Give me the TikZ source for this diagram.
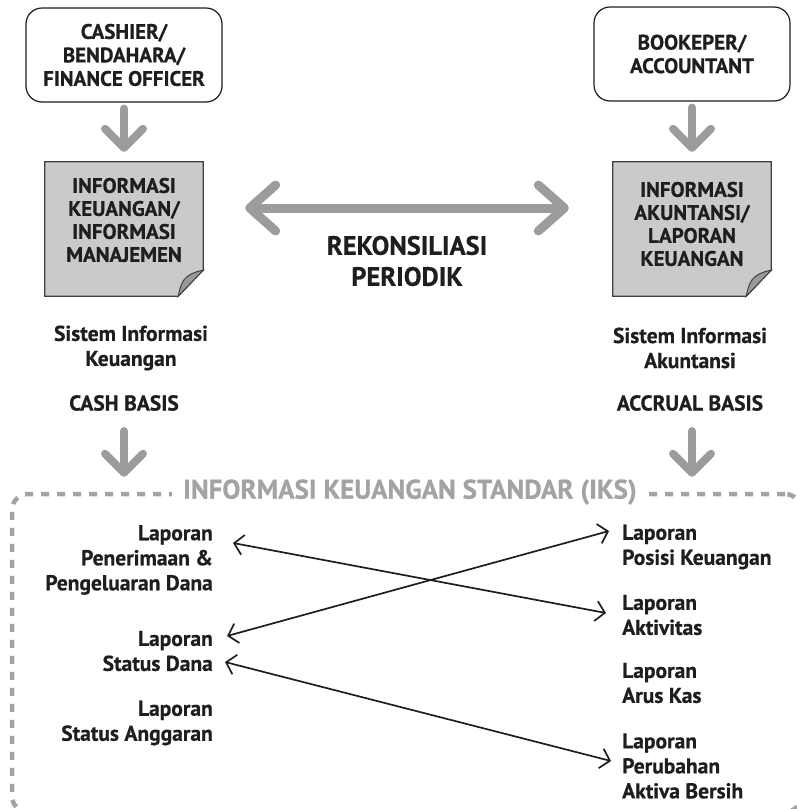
\documentclass[tikz,border=0pt]{standalone}
\usepackage{fontspec}
\setmainfont{PT Sans}[BoldFeatures={FakeBold=0.6}]
\usetikzlibrary{arrows.meta}
\definecolor{flowgray}{HTML}{9C9C9C}
\definecolor{titlegray}{HTML}{A3A3A3}
\definecolor{paper}{HTML}{CACACA}
\definecolor{curl}{HTML}{9A9A9A}
\definecolor{ink}{HTML}{1E1E1E}
\tikzset{
  rolebox/.style={draw=ink, line width=1.2pt, rounded corners=16pt, fill=white,
    minimum width=196pt, minimum height=94pt, align=center, inner sep=0pt,
    font=\fontsize{21}{23.5}\selectfont\bfseries, text=ink},
  doctext/.style={minimum width=158pt, minimum height=134pt, align=center, inner sep=0pt,
    font=\fontsize{21}{23}\selectfont\bfseries, text=ink},
  sheet/.style={draw=ink!85, line width=1.2pt, fill=paper},
  label/.style={align=center, inner sep=0pt, font=\fontsize{21.5}{25}\selectfont\bfseries, text=ink},
  report/.style={inner sep=0pt, font=\fontsize{21.5}{25}\selectfont\bfseries, text=ink},
  bigflow/.style={draw=flowgray, line width=8pt, line cap=round,
    -{Straight Barb[length=19pt, width=38pt, round]}},
  twoway/.style={draw=flowgray, line width=9pt, line cap=round,
    {Straight Barb[length=26pt, width=46pt, round]}-{Straight Barb[length=26pt, width=46pt, round]}},
  link/.style={draw=ink, line width=1.7pt,
    {Straight Barb[length=9pt, width=20pt]}-{Straight Barb[length=9pt, width=20pt]}},
  frame/.style={draw=titlegray, line width=4.5pt, dash pattern=on 8pt off 8pt, rounded corners=16pt}
}
\begin{document}
\begin{tikzpicture}[x=1pt, y=-1pt]
\useasboundingbox (0,0) rectangle (797,809);

% people who produce the information
\node[rolebox] (cashier) at (124,55) {CASHIER/\\BENDAHARA/\\FINANCE OFFICER};
\node[rolebox] (bookkeeper) at (692,54) {BOOKEPER/\\ACCOUNTANT};

% document sheets with a curled corner
\node[doctext] (fininfo) at (124,229) {};
\node[doctext] (accinfo) at (692,229) {};
\foreach \d in {fininfo, accinfo} {
  \path[sheet] (\d.north west) -- (\d.north east) -- ([yshift=26pt]\d.south east)
    -- ([xshift=-25pt]\d.south east) -- (\d.south west) -- cycle;
  \path[draw=ink!85, line width=1pt, fill=curl]
    ([xshift=-25pt]\d.south east) .. controls ([xshift=-22pt, yshift=14pt]\d.south east)
    and ([xshift=-20pt, yshift=22pt]\d.south east) .. ([yshift=26pt]\d.south east)
    -- cycle;
}
\node[doctext] at ([yshift=9pt]fininfo.center) {INFORMASI\\KEUANGAN/\\INFORMASI\\MANAJEMEN};
\node[doctext] at ([yshift=5pt]accinfo.center) {INFORMASI\\AKUNTANSI/\\LAPORAN\\KEUANGAN};

\draw[bigflow, shorten <=6pt, shorten >=10pt] (cashier.south) -- (fininfo.north);
\draw[bigflow, shorten <=6pt, shorten >=10pt] (bookkeeper.south) -- (accinfo.north);

% periodic reconciliation
\node[label, font=\fontsize{26.5}{31}\selectfont\bfseries] (recon) at (407,261) {REKONSILIASI\\PERIODIK};
\draw[twoway, shorten <=42pt, shorten >=44pt] ([yshift=21pt]fininfo.east) -- ([yshift=21pt]accinfo.west);

% systems and bases
\node[label] (sik) at (131,348) {Sistem Informasi\\Keuangan};
\node[label] (sia) at (690,348) {Sistem Informasi\\Akuntansi};
\node[label] (cash) at (124,403) {CASH BASIS};
\node[label] (accrual) at (690,403) {ACCRUAL BASIS};

% standard financial information frame
\node[frame, minimum width=789pt, minimum height=318pt, inner sep=0pt] (iks) at (406.5,653) {};
\node[fill=white, inner xsep=11pt, inner ysep=2pt, text=titlegray,
  font=\fontsize{27}{30}\selectfont\bfseries] (ikstitle) at (410,492) {INFORMASI KEUANGAN STANDAR (IKS)};

\draw[bigflow, shorten <=20pt, shorten >=15pt] (cash.south) -- (cash.south |- iks.north);
\draw[bigflow, shorten <=20pt, shorten >=15pt] ([xshift=2pt]accrual.south) -- ([xshift=2pt]accrual.south |- iks.north);

% cash based reports
\node[report, anchor=east, align=right] (penerimaan) at (213,560) {Laporan\\Penerimaan \&\\Pengeluaran Dana};
\node[report, anchor=east, align=right] (statusdana) at (213,651) {Laporan\\Status Dana};
\node[report, anchor=east, align=right] (anggaran) at (213,723) {Laporan\\Status Anggaran};

% accrual based reports
\node[report, anchor=west, align=left] (posisi) at (622,547) {Laporan\\Posisi Keuangan};
\node[report, anchor=west, align=left] (aktivitas) at (622,615) {Laporan\\Aktivitas};
\node[report, anchor=west, align=left] (aruskas) at (622,683) {Laporan\\Arus Kas};
\node[report, anchor=west, align=left] (perubahan) at (622,766) {Laporan\\Perubahan\\Aktiva Bersih};

% correspondence between the two sets of reports
\coordinate (penerimaanR) at (233,543);
\coordinate (aktivitasL) at (606,613);
\coordinate (statusdanaR1) at (227,636);
\coordinate (posisiL) at (609,531);
\coordinate (statusdanaR2) at (225,662);
\coordinate (perubahanL) at (611,761);
\draw[link] (penerimaanR) -- (aktivitasL);
\draw[link] (statusdanaR1) -- (posisiL);
\draw[link] (statusdanaR2) -- (perubahanL);
\end{tikzpicture}
\end{document}
